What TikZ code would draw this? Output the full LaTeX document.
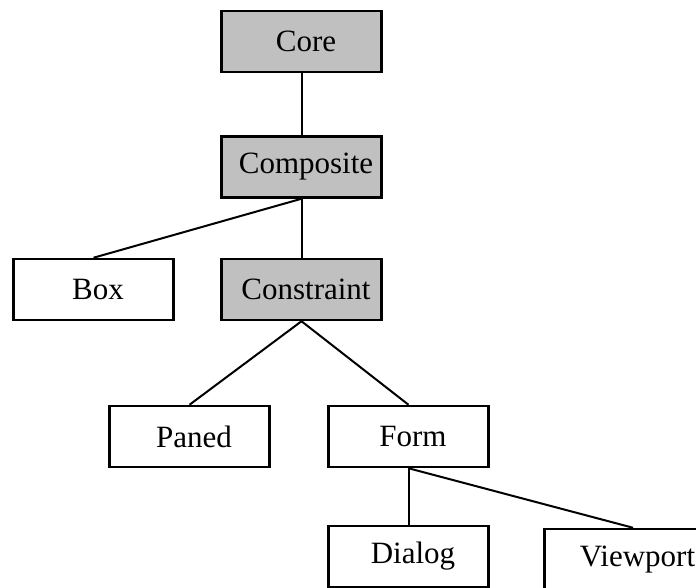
\documentclass[tikz,border=0pt]{standalone}
\usepackage{fontspec}
\setmainfont{Liberation Serif}
\definecolor{boxgrey}{RGB}{192,192,192}

\begin{document}
\begin{tikzpicture}[x=1pt,y=-1pt,
    widget/.style={draw, line width=2.5pt, minimum width=160pt, minimum height=61pt, inner sep=0pt,
        font=\fontsize{31}{36}\selectfont, execute at begin node=\hspace*{9pt}},
    shaded/.style={widget, fill=boxgrey},
    link/.style={line width=2pt}]
            \useasboundingbox (0,0) rectangle (696,588);
            \node[shaded] (core) at (301.5,41.5) {Core};
            \node[shaded] (composite) at (301.5,167) {Composite};
            \node[widget] (box) at (93.5,289.5) {Box};
            \node[shaded] (constraint) at (301.5,289.5) {Constraint};
            \node[widget] (paned) at (189.5,436.5) {Paned};
            \node[widget] (form) at (408.5,436.5) {Form};
            \node[widget] (dialog) at (408.5,556.5) {Dialog};
            \node[widget, minimum width=177pt] (viewport) at (633,559.5) {Viewport};

            \draw[link] (core.south) -- (composite.north);
            \draw[link] (composite.south) -- (box.north);
            \draw[link] (composite.south) -- (constraint.north);
            \draw[link] (constraint.south) -- (paned.north);
            \draw[link] (constraint.south) -- (form.north);
            \draw[link] (form.south) -- (dialog.north);
            \draw[link] (form.south) -- (viewport.north);
\end{tikzpicture}
\end{document}
